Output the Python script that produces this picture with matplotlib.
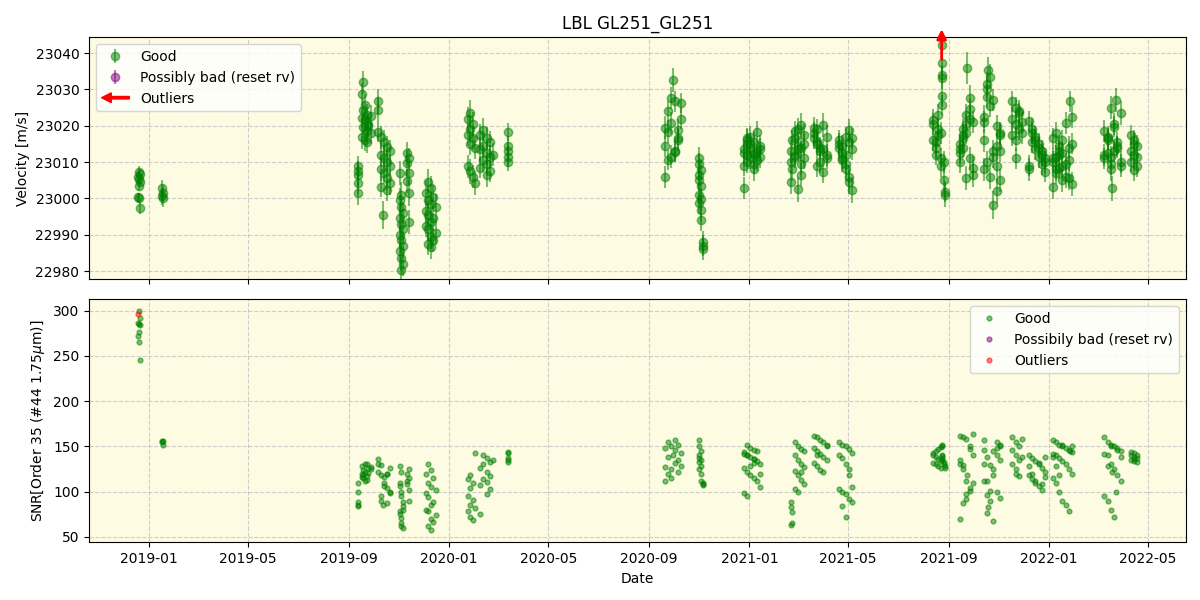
import numpy as np
import pandas as pd
import matplotlib
matplotlib.use("Agg")
import matplotlib.pyplot as plt
import matplotlib.dates as mdates
import matplotlib.patches as mpatches
from matplotlib.legend_handler import HandlerPatch

# ---------------- data (days since 2019-01-01) ----------------
BASE_DATE = "2019-01-01"

# season 1 (Dec 2018 - Jan 2019)
s1_day = [-12, -11, -13, -12, -11, -12, -13, -12, -11, 16, 17, 16, 17]
s1_rv = [23007.4, 23006.8, 23006.0, 23005.3, 23004.4, 23003.5, 23000.3, 23000.0, 22997.3,
         23002.8, 23001.6, 23000.6, 23000.2]
s1_err = [1.4, 1.3, 1.4, 1.5, 1.3, 1.4, 1.3, 1.4, 1.6, 2.4, 2.2, 2.3, 2.5]
s1_snr = [300, 292, 286, 285, 284, 276, 272, 265, 246, 156, 156, 155, 151]

# season 2 (Sep 2019 - Mar 2020)
s2_day = [254, 255, 254, 255, 254,
          261, 259, 263, 261, 265, 259, 263, 267, 261, 265, 259, 263, 270, 267, 270, 265,
          279, 279, 279, 282, 286, 290, 294, 282, 285, 286, 290, 294, 282, 286, 290, 294, 282, 290,
          305, 307, 305, 307, 309, 305, 307, 309, 305, 307, 309, 305, 307, 307, 309, 314, 316, 314, 316, 314, 316, 316,
          340, 343, 337, 346, 340, 343, 349, 337, 340, 346, 343, 337, 340, 349, 343, 346, 340, 343,
          391, 388, 394, 391, 388, 394, 391, 388, 391, 394, 397, 397,
          407, 403, 411, 415, 407, 403, 411, 415, 407, 411, 403, 415, 411, 419,
          437, 437, 437, 437, 437]
s2_rv = [23008.8, 23007.5, 23006.5, 23004.2, 23001.4,
         23032.0, 23028.7, 23025.8, 23024.4, 23023.0, 23022.1, 23021.5, 23020.6, 23019.8, 23018.5, 23017.0, 23016.1, 23022.8, 23020.0, 23018.0, 23015.5,
         23026.7, 23024.4, 23018.4, 23016.8, 23015.5, 23014.2, 23013.0, 23012.0, 22995.5, 23011.2, 23010.0, 23009.0, 23008.0, 23006.9, 23005.5, 23004.3, 23003.2, 23002.3,
         23006.9, 23001.0, 22999.6, 22997.5, 22996.0, 22994.5, 22993.0, 22991.5, 22990.0, 22988.5, 22987.0, 22985.5, 22983.5, 22980.3, 22982.0, 23012.4, 23011.0, 23009.7, 23006.9, 23004.8, 23001.5, 22993.5,
         23004.6, 23003.0, 23001.5, 23000.5, 22999.5, 22998.5, 22997.5, 22996.5, 22995.5, 22994.5, 22993.5, 22992.5, 22991.5, 22990.5, 22989.5, 22988.5, 22987.5, 22986.7,
         23023.5, 23022.0, 23020.5, 23019.0, 23017.5, 23016.6, 23015.0, 23008.8, 23007.5, 23006.0, 23004.2, 23014.0,
         23018.9, 23017.5, 23016.5, 23015.5, 23014.5, 23013.5, 23012.5, 23011.5, 23010.5, 23009.5, 23008.5, 23007.5, 23006.5, 23012.0,
         23018.4, 23014.5, 23013.0, 23011.5, 23010.1]
s2_err = [3.0, 2.8, 3.2, 3.0, 3.1,
          3.2, 3.0, 2.9, 3.1, 3.0, 2.8, 3.2, 3.0, 2.9, 3.1, 3.3, 3.0, 2.8, 3.1, 3.0, 2.9,
          3.5, 3.2, 3.0, 3.1, 3.3, 2.9, 3.0, 3.2, 3.8, 3.1, 3.0, 2.9, 3.2, 3.0, 3.1, 3.3, 2.9, 3.0,
          3.3, 3.5, 3.2, 3.4, 3.1, 3.3, 3.6, 3.2, 3.4, 3.5, 3.3, 3.1, 3.4, 3.6, 3.3, 3.2, 3.0, 3.4, 3.1, 3.3, 3.5, 3.2,
          3.4, 3.2, 3.5, 3.3, 3.1, 3.4, 3.6, 3.2, 3.3, 3.5, 3.4, 3.2, 3.1, 3.3, 3.5, 3.4, 3.2, 3.3,
          3.5, 3.3, 3.4, 3.2, 3.1, 3.3, 3.0, 3.2, 3.4, 3.1, 3.3, 3.2,
          3.2, 3.0, 3.3, 3.1, 3.2, 3.4, 3.0, 3.1, 3.3, 3.2, 3.0, 3.1, 3.3, 3.2,
          2.5, 2.7, 2.6, 2.8, 2.5]
s2_snr = [110, 100, 89, 85, 84,
          124, 119, 131, 115, 113, 128, 122, 126, 118, 130, 116, 112, 127, 121, 125, 117,
          136, 131, 122, 129, 106, 120, 100, 118, 85, 110, 87, 126, 95, 116, 104, 98, 90, 120,
          128, 122, 109, 99, 84, 78, 71, 60, 106, 95, 88, 75, 65, 62, 80, 119, 115, 112, 125, 108, 102, 90,
          130, 124, 120, 115, 109, 105, 102, 98, 94, 89, 85, 80, 78, 74, 70, 66, 62, 57,
          118, 114, 109, 104, 95, 91, 85, 78, 72, 69, 143, 82,
          140, 75, 137, 133, 130, 126, 122, 117, 114, 111, 107, 103, 97, 135,
          144, 143, 137, 135, 133]

# season 3 (Sep 2020 - May 2021)
s3_day = [628, 632, 636, 628, 640, 632, 644, 636, 628, 640, 648, 638, 632, 644, 640, 648, 636, 644,
          670, 669, 672, 670, 669, 672, 670, 672, 670, 672, 672, 675, 675, 675,
          728, 732, 736, 724, 724, 728, 732, 736, 740, 744, 724, 728, 732, 736, 740, 744, 724, 728, 732, 736, 740, 744, 728, 736,
          782, 782, 783, 783, 782, 786, 790, 794, 798, 786, 790, 794, 798, 786, 790, 794, 798, 786, 790, 794,
          809, 813, 817, 821, 825, 809, 813, 817, 821, 825, 809, 813, 817, 821, 825, 813,
          840, 844, 848, 852, 856, 840, 844, 848, 852, 856, 840, 844, 848, 852, 856, 844, 848, 852]
s3_rv = [23006.0, 23010.6, 23011.5, 23014.3, 23013.0, 23018.4, 23016.5, 23020.7, 23019.5, 23026.7, 23022.0, 23032.6, 23024.0, 23016.1, 23012.9, 23026.2, 23027.6, 23018.9,
         23011.1, 23009.5, 23007.9, 23006.5, 23005.0, 23003.3, 23001.0, 22999.8, 22998.6, 22996.8, 22994.1, 22988.1, 22987.0, 22986.0,
         23012.0, 23015.0, 23009.5, 23002.8, 23013.5, 23016.5, 23011.0, 23008.0, 23018.4, 23014.5, 23012.5, 23010.0, 23017.0, 23015.5, 23013.0, 23011.5, 23009.0, 23016.0, 23014.0, 23012.0, 23010.5, 23013.5, 23015.0, 23012.5,
         23010.0, 23013.0, 23016.0, 23008.0, 23004.6, 23011.5, 23014.5, 23006.5, 23017.5, 23012.0, 23002.5, 23009.5, 23015.0, 23018.5, 23013.5, 23020.2, 23011.0, 23016.5, 23019.0, 23014.0,
         23018.0, 23015.5, 23013.0, 23020.2, 23011.0, 23016.5, 23009.0, 23014.0, 23007.4, 23012.0, 23019.5, 23015.0, 23010.0, 23013.5, 23017.0, 23019.0,
         23014.0, 23011.0, 23008.0, 23004.5, 23002.3, 23016.0, 23012.5, 23009.5, 23006.0, 23013.5, 23015.0, 23010.5, 23017.0, 23018.9, 23016.5, 23014.5, 23012.0, 23015.5]
s3_err = [3.0, 2.8, 3.1, 2.9, 3.0, 3.2, 2.8, 3.0, 3.1, 2.9, 3.0, 3.2, 2.9, 3.1, 3.0, 2.8, 3.1, 3.0,
          3.0, 3.1, 2.9, 3.2, 3.0, 3.1, 3.3, 3.0, 2.9, 3.2, 3.1, 3.0, 2.8, 3.1,
          2.8, 3.0, 2.9, 3.1, 2.7, 3.0, 2.8, 3.2, 2.9, 3.0, 2.8, 3.1, 2.9, 3.0, 2.7, 3.1, 2.9, 3.0, 2.8, 3.1, 2.9, 3.0, 2.8, 3.0,
          3.0, 3.2, 2.9, 3.1, 3.3, 3.0, 2.8, 3.2, 3.0, 2.9, 3.4, 3.1, 3.0, 2.9, 3.1, 3.2, 3.0, 2.8, 3.1, 3.0,
          3.0, 2.9, 3.1, 3.2, 2.8, 3.0, 3.1, 2.9, 3.2, 3.0, 2.8, 3.1, 3.0, 2.9, 3.1, 3.0,
          3.1, 3.0, 3.2, 3.3, 3.5, 2.9, 3.0, 3.1, 3.2, 2.9, 3.0, 3.1, 2.8, 3.0, 2.9, 3.1, 3.0, 2.9]
s3_snr = [127, 120, 115, 112, 157, 155, 152, 150, 148, 146, 143, 140, 138, 135, 132, 128, 125, 122,
          157, 150, 145, 140, 137, 135, 133, 128, 125, 120, 112, 110, 108, 107,
          151, 148, 146, 144, 142, 140, 138, 136, 134, 130, 126, 122, 118, 115, 112, 105, 98, 95, 128, 132, 145, 120, 140, 136,
          88, 83, 77, 65, 63, 155, 150, 147, 145, 140, 135, 130, 127, 123, 118, 113, 108, 103, 100, 122,
          162, 160, 157, 155, 152, 148, 145, 142, 138, 135, 132, 128, 124, 122, 150, 140,
          155, 152, 150, 147, 143, 140, 137, 130, 125, 105, 103, 100, 97, 92, 88, 84, 72, 118]

# season 4 (Aug 2021 - Apr 2022)
s4_day = [955, 958, 961, 964, 955, 958, 961, 964, 955, 958, 961, 964, 965, 965, 965, 965, 965, 965, 968, 968, 969, 969,
          987, 991, 995, 999, 1003, 987, 991, 995, 999, 1003, 987, 991, 996, 999, 995, 991, 987, 1003, 999, 995,
          1016, 1020, 1024, 1028, 1020, 1024, 1020, 1024, 1022, 1020, 1028, 1016, 1032, 1036, 1028, 1032, 1036, 1016, 1028, 1032, 1036, 1016, 1032, 1036,
          1051, 1055, 1059, 1051, 1055, 1059, 1051, 1055, 1055, 1059, 1063, 1063,
          1071, 1075, 1079, 1083, 1087, 1091, 1071, 1075, 1079, 1083, 1087, 1091, 1071, 1075, 1079, 1083, 1087, 1091,
          1100, 1104, 1108, 1112, 1116, 1120, 1124, 1100, 1104, 1108, 1112, 1116, 1120, 1124, 1100, 1104, 1108, 1112, 1116, 1120, 1121, 1124, 1100, 1104, 1108, 1112,
          1163, 1167, 1171, 1175, 1179, 1183, 1163, 1167, 1171, 1175, 1173, 1179, 1183, 1177, 1163, 1167, 1171, 1175, 1179, 1183, 1167, 1171,
          1195, 1199, 1203, 1195, 1199, 1203, 1195, 1199, 1203, 1199]
s4_rv = [23016.0, 23012.0, 23019.0, 23009.0, 23021.5, 23014.0, 23017.5, 23011.0, 23020.5, 23015.5, 23023.0, 23018.0, 23042.3, 23037.2, 23034.0, 23033.1, 23028.1, 23025.8, 23010.0, 23005.1, 23001.9, 23001.0,
         23010.0, 23014.0, 23018.0, 23022.0, 23006.5, 23012.5, 23016.5, 23020.5, 23024.5, 23008.5, 23015.0, 23019.0, 23035.9, 23027.6, 23023.0, 23017.5, 23013.5, 23021.0, 23011.0, 23005.6,
         23016.0, 23010.0, 23006.0, 23013.0, 23030.0, 23033.5, 23028.0, 23025.5, 23035.4, 23031.5, 23027.0, 23022.5, 23020.0, 23017.5, 22998.2, 23002.0, 23005.0, 23008.0, 23011.5, 23014.5, 23018.0, 23021.0, 23009.0, 23013.0,
         23026.7, 23025.0, 23023.5, 23022.0, 23020.5, 23019.0, 23017.5, 23016.1, 23011.1, 23024.0, 23021.0, 23018.0,
         23021.2, 23019.0, 23017.0, 23015.0, 23013.0, 23011.0, 23009.0, 23018.0, 23016.0, 23014.0, 23012.0, 23010.0, 23008.0, 23015.5, 23013.5, 23011.5, 23009.5, 23007.4,
         23010.0, 23007.0, 23012.0, 23005.0, 23009.5, 23014.0, 23004.0, 23011.0, 23008.0, 23013.0, 23016.0, 23006.0, 23010.5, 23015.0, 23003.2, 23018.0, 23008.5, 23012.5, 23020.7, 23005.5, 23026.7, 23022.5, 23016.5, 23011.5, 23014.5, 23009.0,
         23012.0, 23016.0, 23009.5, 23019.8, 23014.0, 23023.5, 23011.0, 23017.0, 23008.0, 23013.0, 23002.8, 23015.5, 23010.0, 23027.1, 23018.5, 23012.5, 23025.0, 23020.5, 23014.5, 23009.0, 23016.5, 23011.5,
         23017.5, 23016.0, 23014.5, 23013.0, 23015.0, 23011.5, 23010.0, 23012.0, 23009.0, 23007.8]
s4_err = [3.0, 2.9, 3.1, 3.2, 3.0, 2.8, 3.1, 3.0, 2.9, 3.2, 3.0, 3.1, 2.5, 2.8, 2.7, 2.9, 3.0, 2.8, 3.1, 3.2, 3.0, 3.3,
          3.1, 3.0, 2.9, 3.2, 3.3, 3.0, 2.9, 3.1, 3.0, 3.2, 2.8, 3.0, 4.5, 3.5, 3.1, 3.0, 2.9, 3.1, 3.2, 3.3,
          3.2, 3.0, 3.3, 3.1, 3.0, 3.4, 3.1, 3.0, 3.5, 3.2, 3.0, 3.1, 2.9, 3.0, 3.8, 3.5, 3.2, 3.1, 3.0, 2.9, 3.1, 3.0, 3.2, 3.1,
          2.8, 3.0, 2.9, 3.1, 3.0, 2.8, 3.0, 3.1, 2.9, 3.0, 2.8, 3.0,
          3.0, 3.1, 2.9, 3.0, 3.2, 3.0, 2.9, 3.1, 3.0, 2.8, 3.1, 3.0, 3.2, 2.9, 3.0, 3.1, 3.0, 2.9,
          3.1, 3.0, 2.9, 3.2, 3.0, 3.1, 3.3, 2.9, 3.0, 3.1, 2.8, 3.2, 3.0, 2.9, 3.4, 3.0, 3.1, 2.9, 3.0, 3.2, 2.8, 3.0, 2.9, 3.1, 3.0, 2.9,
          3.0, 2.9, 3.1, 3.0, 2.8, 3.2, 3.0, 2.9, 3.1, 3.0, 3.5, 2.9, 3.0, 3.3, 3.0, 2.9, 3.1, 3.0, 2.8, 3.1, 3.0, 2.9,
          2.8, 2.9, 3.0, 2.8, 2.9, 3.0, 2.8, 2.9, 3.0, 2.9]
s4_snr = [140, 138, 136, 134, 132, 130, 128, 126, 143, 145, 147, 149, 151, 150, 141, 139, 137, 135, 133, 131, 128, 126,
          135, 129, 112, 147, 164, 162, 160, 158, 150, 140, 130, 125, 118, 101, 92, 87, 70, 110, 104, 97,
          146, 138, 129, 118, 112, 101, 96, 90, 83, 76, 68, 157, 155, 150, 145, 140, 135, 131, 125, 100, 93, 112, 148, 152,
          160, 155, 150, 146, 140, 135, 130, 125, 120, 117, 158, 138,
          140, 137, 134, 130, 126, 122, 118, 114, 110, 106, 102, 138, 128, 120, 112, 132, 108, 116,
          157, 155, 152, 150, 148, 146, 144, 142, 140, 137, 134, 130, 125, 120, 115, 110, 100, 90, 85, 78, 145, 150, 138, 128, 118, 152,
          160, 155, 152, 150, 148, 145, 142, 140, 130, 125, 122, 118, 112, 100, 95, 90, 80, 72, 146, 138, 128, 150,
          144, 143, 141, 140, 138, 137, 135, 134, 133, 136]

# outliers
outlier_snr_day = [-13]
outlier_snr = [297]
outlier_rv_day = [965]   # velocity outlier above the plot range (drawn as arrow)

# ---------------- assemble ----------------
def season(d, r, e, s):
    n = min(len(d), len(r), len(e), len(s))
    return list(d[:n]), list(r[:n]), list(e[:n]), list(s[:n])

days, rv, err, snr = [], [], [], []
for blk in [(s1_day, s1_rv, s1_err, s1_snr), (s2_day, s2_rv, s2_err, s2_snr),
            (s3_day, s3_rv, s3_err, s3_snr), (s4_day, s4_rv, s4_err, s4_snr)]:
    d, r, e, s = season(*blk)
    days += d; rv += r; err += e; snr += s

base = pd.Timestamp(BASE_DATE)
to_dates = lambda dd: (base + pd.to_timedelta(np.array(dd, dtype=float), unit="D")).to_pydatetime()
dates = to_dates(days)

# ---------------- figure ----------------
fig = plt.figure(figsize=(12, 6), dpi=100)
ax1 = fig.add_axes([0.0742, 0.535, 0.9138, 0.403])
ax2 = fig.add_axes([0.0742, 0.096, 0.9138, 0.405], sharex=ax1)
bg = "#fdfbe2"
for ax in (ax1, ax2):
    ax.set_facecolor(bg)
    ax.grid(True, linestyle="--", color="#b0b0b8", alpha=0.6)
    ax.set_axisbelow(True)

good = ax1.errorbar(dates, rv, yerr=err, fmt="o", color="green", ecolor="green",
                    alpha=0.5, markersize=6, elinewidth=1.5, capsize=0, label="Good")
bad = ax1.errorbar(np.array([], dtype="datetime64[ns]"), np.array([]), yerr=np.array([]),
                   fmt="o", color="purple", alpha=0.5, markersize=6, label="Possibly bad (reset rv)")

ylo, yhi = 22977.8, 23044.4
ax1.set_ylim(ylo, yhi)
for d in outlier_rv_day:
    xd = to_dates([d])[0]
    ax1.annotate("", xy=(xd, yhi + 2.2), xytext=(xd, 23038.3),
                 arrowprops=dict(arrowstyle="-|>", color="red", lw=2, mutation_scale=14,
                                 shrinkA=0, shrinkB=0),
                 annotation_clip=False)

arrow_handle = mpatches.FancyArrow(0, 0, 1, 0, color="red")

def make_arrow(legend, orig_handle, xdescent, ydescent, width, height, fontsize):
    return mpatches.FancyArrow(width - xdescent, 0.5 * height - ydescent, -width, 0,
                               width=1.8, head_width=7, head_length=7,
                               length_includes_head=True, color="red")

ax1.legend([good, bad, arrow_handle], ["Good", "Possibly bad (reset rv)", "Outliers"],
           loc="upper left", handler_map={mpatches.FancyArrow: HandlerPatch(patch_func=make_arrow)})
ax1.set_ylabel("Velocity [m/s]")
ax1.set_title("LBL GL251_GL251")
ax1.set_yticks([22980, 22990, 23000, 23010, 23020, 23030, 23040])
plt.setp(ax1.get_xticklabels(), visible=False)

# bottom panel
ax2.plot(dates, snr, "o", color="green", alpha=0.5, markersize=3.5, label="Good")
ax2.plot([], [], "o", color="purple", alpha=0.5, markersize=3.5, label="Possibily bad (reset rv)")
ax2.plot(to_dates(outlier_snr_day), outlier_snr, "o", color="red", alpha=0.5,
         markersize=3.5, label="Outliers")
ax2.set_ylim(43.8, 312.6)
ax2.set_yticks([50, 100, 150, 200, 250, 300])
ax2.set_ylabel(r"SNR[Order 35 (#44 1.75$\mu$m)]")
ax2.set_xlabel("Date")
ax2.legend(loc="upper right")

ax2.xaxis.set_major_locator(mdates.MonthLocator(bymonth=[1, 5, 9]))
ax2.xaxis.set_major_formatter(mdates.DateFormatter("%Y-%m"))
ax2.set_xlim(to_dates([-73])[0], to_dates([1262])[0])

fig.savefig("out.png", dpi=100)
